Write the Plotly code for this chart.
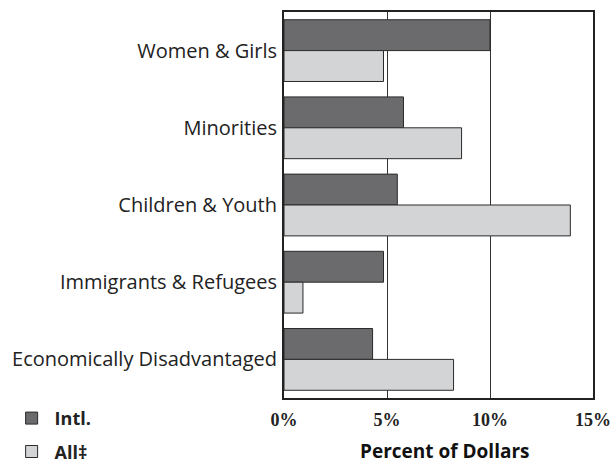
import plotly.graph_objects as go

categories = ["Women & Girls", "Minorities", "Children & Youth",
              "Immigrants & Refugees", "Economically Disadvantaged"]
intl = [10.0, 5.8, 5.5, 4.83, 4.3]
all_ = [4.83, 8.62, 13.9, 0.92, 8.23]
tick_vals = [0, 5, 10, 15]
tick_text = ["0%", "5%", "10%", "15%"]
x_title = "Percent of Dollars"

fig = go.Figure()
fig.add_trace(go.Bar(y=categories, x=intl, orientation="h", name="Intl.",
                     legendgroup="a",
                     marker=dict(color="#6b6b6e", line=dict(color="#2a2a2a", width=1))))
fig.add_trace(go.Bar(y=categories, x=all_, orientation="h", name="All‡",
                     legendgroup="b",
                     marker=dict(color="#d3d4d6", line=dict(color="#2a2a2a", width=1))))

fig.add_annotation(text=x_title, xref="paper", yref="paper", x=0.521, y=-0.137,
                   xanchor="center", yanchor="middle", showarrow=False,
                   font=dict(family="Open Sans", size=19, color="#111", weight="bold"))

fig.update_layout(
    width=615, height=465,
    margin=dict(l=284, r=22, t=12, b=67, autoexpand=False),
    plot_bgcolor="white", paper_bgcolor="white",
    barmode="group", bargap=0.2, bargroupgap=0,
    font=dict(family="Open Sans", color="#222"),
    legend=dict(xref="container", yref="container", x=0.014, y=0.14,
                xanchor="left", yanchor="top", itemwidth=36,
                traceorder="grouped", tracegroupgap=7,
                font=dict(family="Open Sans", size=18, color="#222", weight="bold"),
                bgcolor="rgba(0,0,0,0)"),
    xaxis=dict(range=[0, 15], tickvals=tick_vals, ticktext=tick_text,
               automargin=False,
               showgrid=True, gridcolor="#333", gridwidth=1,
               showline=True, linecolor="#222", linewidth=1.5, mirror=True,
               zeroline=False, ticks="", ticklen=0, ticklabelstandoff=5,
               tickfont=dict(family="Liberation Serif", size=18, color="#222", weight="bold")),
    yaxis=dict(autorange="reversed", showline=True, linecolor="#222", linewidth=2,
               automargin=False,
               mirror=True, ticks="", ticklen=0, showgrid=False, ticklabelstandoff=1,
               tickfont=dict(family="Open Sans", size=20, color="#222")),
)
fig.write_html("out.html", config={"displayModeBar": False},
               post_script="document.body.style.margin='0';")
